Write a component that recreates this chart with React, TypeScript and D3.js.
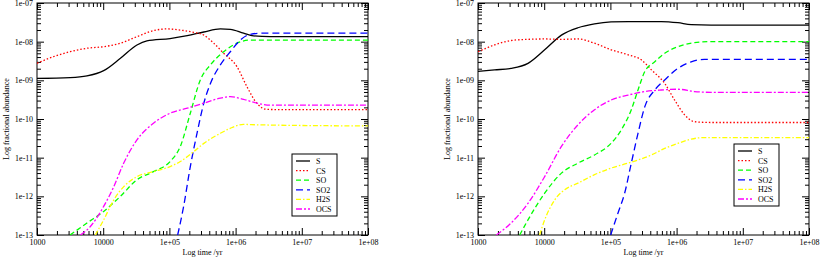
import { useEffect, useRef } from "react";
import * as d3 from "d3";

// species, styles follow the legend order
const species = ["S", "CS", "SO", "SO2", "H2S", "OCS"];
const colors = ["#000000", "#ff0000", "#00ff00", "#0000ff", "#ffff00", "#ff00ff"];
const dashes = ["", "1.5,2", "5,3", "7,4", "5,2,1.5,2", "6,2,2,2"];

const xTicks = [1e3, 1e4, 1e5, 1e6, 1e7, 1e8];
const xTickLabels = ["1000", "10000", "1e+05", "1e+06", "1e+07", "1e+08"];
const yTicks = [1e-7, 1e-8, 1e-9, 1e-10, 1e-11, 1e-12, 1e-13];
const yTickLabels = ["1e-07", "1e-08", "1e-09", "1e-10", "1e-11", "1e-12", "1e-13"];

// points are [log10 time/yr, log10 abundance]
const leftS = [[3, -8.95], [3.5, -8.93], [3.755, -8.886], [4.007, -8.75], [4.26, -8.43], [4.51, -8.085], [4.66, -7.98], [5.01, -7.92], [5.27, -7.845], [5.52, -7.75], [5.77, -7.67], [5.92, -7.68], [6.12, -7.78], [6.27, -7.85], [6.52, -7.87], [8, -7.87]];
const leftCS = [[3, -8.56], [3.25, -8.387], [3.5, -8.26], [3.755, -8.17], [4.007, -8.13], [4.26, -8.04], [4.51, -7.87], [4.76, -7.715], [4.96, -7.67], [5.165, -7.7], [5.37, -7.76], [5.52, -7.83], [5.67, -8.04], [5.82, -8.3], [6.02, -8.645], [6.17, -9.16], [6.32, -9.59], [6.47, -9.75], [6.78, -9.76], [8, -9.76]];
const leftSO = [[3.5, -13.0], [3.755, -12.69], [4.007, -12.39], [4.26, -12.0], [4.51, -11.57], [4.76, -11.36], [5.01, -11.1], [5.165, -10.71], [5.316, -9.85], [5.467, -8.99], [5.62, -8.6], [5.82, -8.26], [6.02, -8.04], [6.22, -7.96], [6.52, -7.96], [8, -7.96]];
const leftSO2 = [[5.125, -13.0], [5.215, -12.26], [5.316, -11.23], [5.417, -10.37], [5.52, -9.59], [5.62, -9.08], [5.77, -8.6], [5.92, -8.26], [6.07, -7.96], [6.22, -7.81], [6.42, -7.78], [8, -7.78]];
const leftH2S = [[3.88, -13.0], [4.007, -12.61], [4.16, -12.09], [4.31, -11.75], [4.51, -11.49], [4.76, -11.36], [5.01, -11.23], [5.165, -11.1], [5.37, -10.84], [5.52, -10.63], [5.77, -10.37], [5.92, -10.24], [6.12, -10.14], [6.32, -10.15], [8, -10.18]];
const leftOCS = [[3.655, -13.0], [3.806, -12.78], [4.007, -12.26], [4.16, -11.75], [4.31, -11.14], [4.51, -10.54], [4.76, -10.11], [5.01, -9.85], [5.27, -9.72], [5.52, -9.59], [5.77, -9.46], [5.92, -9.42], [6.12, -9.49], [6.32, -9.59], [6.52, -9.64], [8, -9.64]];

const rightS = [[3, -8.77], [3.25, -8.73], [3.5, -8.69], [3.755, -8.56], [4.007, -8.21], [4.26, -7.83], [4.51, -7.64], [4.76, -7.54], [5.01, -7.49], [5.27, -7.48], [5.77, -7.48], [6.02, -7.51], [6.22, -7.56], [6.52, -7.57], [8, -7.57]];
const rightCS = [[3, -8.26], [3.25, -8.085], [3.5, -7.97], [3.755, -7.94], [4.007, -7.93], [4.26, -7.94], [4.51, -7.93], [4.76, -8.04], [5.01, -8.21], [5.27, -8.34], [5.467, -8.47], [5.62, -8.73], [5.82, -9.08], [5.97, -9.51], [6.12, -9.89], [6.27, -10.07], [6.52, -10.09], [8, -10.09]];
const rightSO = [[3.63, -13.0], [3.755, -12.61], [4.007, -11.92], [4.26, -11.4], [4.51, -11.14], [4.76, -10.93], [5.01, -10.63], [5.165, -10.28], [5.316, -9.76], [5.417, -9.25], [5.52, -8.77], [5.67, -8.52], [5.82, -8.3], [6.02, -8.13], [6.27, -8.025], [6.52, -8.0], [8, -8.0]];
const rightSO2 = [[5.004, -13.0], [5.115, -12.43], [5.215, -11.92], [5.316, -11.14], [5.417, -10.37], [5.52, -9.68], [5.67, -9.25], [5.82, -8.99], [6.02, -8.69], [6.22, -8.52], [6.42, -8.46], [8, -8.46]];
const rightH2S = [[3.93, -13.0], [4.007, -12.61], [4.16, -12.09], [4.31, -11.83], [4.51, -11.66], [4.76, -11.44], [5.01, -11.27], [5.27, -11.14], [5.417, -11.06], [5.62, -10.93], [5.82, -10.76], [6.02, -10.63], [6.22, -10.52], [6.42, -10.48], [8, -10.48]];
const rightOCS = [[3.277, -13.0], [3.5, -12.69], [3.755, -12.18], [4.007, -11.49], [4.26, -10.71], [4.51, -10.15], [4.76, -9.76], [5.01, -9.51], [5.27, -9.38], [5.52, -9.29], [5.77, -9.25], [6.02, -9.23], [6.27, -9.29], [6.52, -9.31], [8, -9.31]];

const leftSeries = [leftS, leftCS, leftSO, leftSO2, leftH2S, leftOCS];
const rightSeries = [rightS, rightCS, rightSO, rightSO2, rightH2S, rightOCS];

const FONT = "'Liberation Serif', 'DejaVu Serif', serif";

export default function App() {
  const svgRef = useRef<SVGSVGElement>(null);

  useEffect(() => {
    const svg = d3.select(svgRef.current);
    svg.selectAll("*").remove();

    const panels = [
      { id: "l", x0: 37, x1: 368, data: leftSeries, yLabelX: 6, legend: { x: 292, y: 154 } },
      { id: "r", x0: 478, x1: 809, data: rightSeries, yLabelX: 447, legend: { x: 734, y: 144 } },
    ];
    const y0 = 3;
    const y1 = 235;

    panels.forEach((p) => {
      const x = d3.scaleLog().domain([1e3, 1e8]).range([p.x0, p.x1]);
      const y = d3.scaleLog().domain([1e-13, 1e-7]).range([y1, y0]);
      const g = svg.append("g");

      g.append("clipPath").attr("id", "clip-" + p.id)
        .append("rect").attr("x", p.x0).attr("y", y0).attr("width", p.x1 - p.x0).attr("height", y1 - y0);

      // minor ticks for a log axis
      const minorX: number[] = [];
      for (let e = 3; e < 8; e++) for (let k = 2; k < 10; k++) minorX.push(k * 10 ** e);
      const minorY: number[] = [];
      for (let e = -13; e < -7; e++) for (let k = 2; k < 10; k++) minorY.push(k * 10 ** e);

      const axisStyle = (sel: any) => {
        sel.select(".domain").remove();
        sel.selectAll("line").attr("stroke", "#000").attr("stroke-width", 1);
        sel.selectAll("text").attr("font-family", FONT).attr("font-size", 8).attr("fill", "#000");
      };

      // bottom
      g.append("g").attr("transform", `translate(0,${y1})`)
        .call(d3.axisBottom(x).tickValues(minorX).tickSize(-4).tickFormat(() => ""))
        .call(axisStyle);
      g.append("g").attr("transform", `translate(0,${y1})`)
        .call(d3.axisBottom(x).tickValues(xTicks).tickSize(-7).tickPadding(4)
          .tickFormat((_d, i) => xTickLabels[i]))
        .call(axisStyle);
      // top
      g.append("g").attr("transform", `translate(0,${y0})`)
        .call(d3.axisTop(x).tickValues(minorX).tickSize(-4).tickFormat(() => ""))
        .call(axisStyle);
      g.append("g").attr("transform", `translate(0,${y0})`)
        .call(d3.axisTop(x).tickValues(xTicks).tickSize(-7).tickFormat(() => ""))
        .call(axisStyle);
      // left
      g.append("g").attr("transform", `translate(${p.x0},0)`)
        .call(d3.axisLeft(y).tickValues(minorY).tickSize(-4).tickFormat(() => ""))
        .call(axisStyle);
      g.append("g").attr("transform", `translate(${p.x0},0)`)
        .call(d3.axisLeft(y).tickValues(yTicks).tickSize(-7).tickPadding(4)
          .tickFormat((_d, i) => yTickLabels[i]))
        .call(axisStyle);
      // right
      g.append("g").attr("transform", `translate(${p.x1},0)`)
        .call(d3.axisRight(y).tickValues(minorY).tickSize(-4).tickFormat(() => ""))
        .call(axisStyle);
      g.append("g").attr("transform", `translate(${p.x1},0)`)
        .call(d3.axisRight(y).tickValues(yTicks).tickSize(-7).tickFormat(() => ""))
        .call(axisStyle);

      // frame
      g.append("rect").attr("x", p.x0).attr("y", y0).attr("width", p.x1 - p.x0).attr("height", y1 - y0)
        .attr("fill", "none").attr("stroke", "#000").attr("stroke-width", 1);

      // curves
      const line = d3.line<number[]>()
        .x((d) => x(10 ** d[0]))
        .y((d) => y(10 ** d[1]))
        .curve(d3.curveMonotoneX);

      p.data.forEach((s, i) => {
        g.append("path")
          .attr("d", line(s))
          .attr("clip-path", `url(#clip-${p.id})`)
          .attr("fill", "none")
          .attr("stroke", colors[i])
          .attr("stroke-width", 1.3)
          .attr("stroke-dasharray", dashes[i] || null);
      });

      // axis titles
      g.append("text")
        .attr("x", (p.x0 + p.x1) / 2).attr("y", 255)
        .attr("text-anchor", "middle")
        .attr("font-family", FONT).attr("font-size", 8)
        .text("Log time /yr");
      g.append("text")
        .attr("transform", `translate(${p.yLabelX + 3},${(y0 + y1) / 2}) rotate(-90)`)
        .attr("text-anchor", "middle")
        .attr("font-family", FONT).attr("font-size", 8)
        .text("Log fractional abundance");

      // legend
      const lg = g.append("g").attr("transform", `translate(${p.legend.x},${p.legend.y})`);
      lg.append("rect").attr("width", 45).attr("height", 62)
        .attr("fill", "#fff").attr("stroke", "#000").attr("stroke-width", 1);
      species.forEach((name, i) => {
        const yy = 7 + i * 9.6;
        lg.append("line").attr("x1", 4).attr("x2", 18).attr("y1", yy).attr("y2", yy)
          .attr("stroke", colors[i]).attr("stroke-width", 1.3)
          .attr("stroke-dasharray", dashes[i] || null);
        lg.append("text").attr("x", 24).attr("y", yy + 3)
          .attr("font-family", FONT).attr("font-size", 8)
          .text(name);
      });
    });
  }, []);

  return (
    <svg
      ref={svgRef}
      width={822}
      height={257}
      style={{ position: "absolute", left: 0, top: 0, background: "#fff" }}
    />
  );
}
